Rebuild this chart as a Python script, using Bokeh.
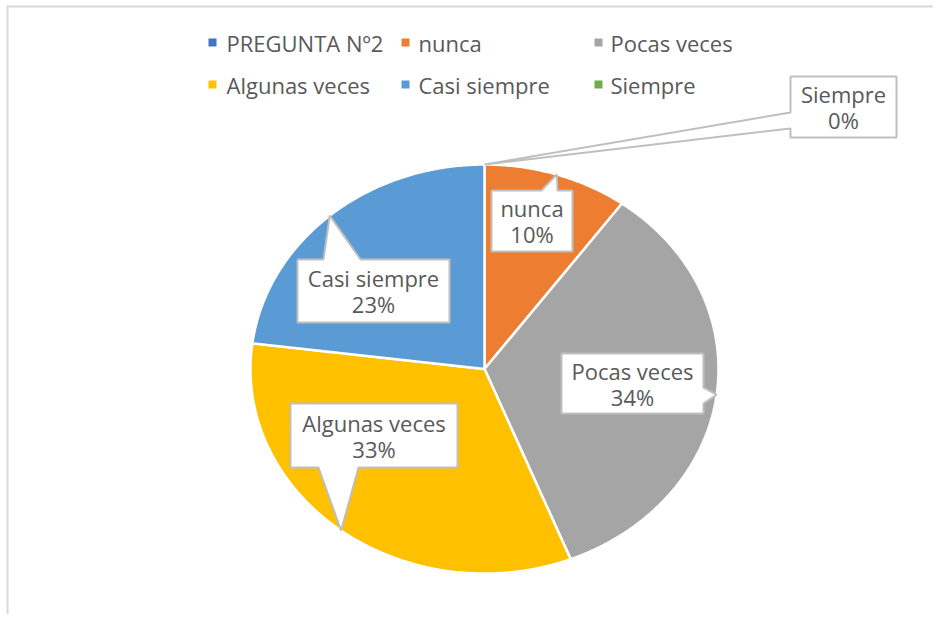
import numpy as np
from bokeh.plotting import figure
from bokeh.models import Range1d
from bokeh.core.properties import value
from bokeh.embed import file_html
from bokeh.resources import INLINE

# ---------------- data ----------------
categories = ["PREGUNTA Nº2", "nunca", "Pocas veces", "Algunas veces", "Casi siempre", "Siempre"]
percent = [0, 10, 34, 33, 23, 0]
colors = ["#4472C4", "#ED7D31", "#A5A5A5", "#FFC000", "#5B9BD5", "#70AD47"]

# ---------------- layout (pixel space of the picture) ----------------
W, H = 933, 614
CX, CY, RX, RY = 484, 368.5, 234, 204.5
FONT = value("Open Sans")
TXT = "#595959"
FS = "22px"

# legend: column x of marker, row y
leg_marker_x = [212, 405, 598]
leg_text_x = [226, 418, 610]
leg_row_y = [42, 84]

# callout boxes: (x0, y0, x1, y1, side, base0, base1) for slices 1..5
callouts = {
    "nunca": (491, 190, 572, 251, "top", 541, 557),
    "Pocas veces": (561, 353, 703, 413, "right", 387, 403),
    "Algunas veces": (290, 403, 457, 467, "bottom", 318, 358),
    "Casi siempre": (297, 259, 449, 322, "top", 323, 360),
    "Siempre": (790, 76, 896, 137, "left", 112, 128),
}

p = figure(width=W, height=H, output_backend="svg", toolbar_location=None,
           x_range=Range1d(0, W), y_range=Range1d(H, 0),
           x_axis_type=None, y_axis_type=None, min_border=0)
p.outline_line_color = None
p.xgrid.visible = False
p.ygrid.visible = False

# frame lines of the chart area (top and left visible)
p.segment(x0=[6, 7], y0=[6, 6], x1=[W, 7], y1=[6, H],
          line_color="#D9D9D9", line_width=2)


def ell(t_deg):
    t = np.radians(t_deg)
    return CX + RX * np.sin(t), CY - RY * np.cos(t)


# ---------------- pie slices ----------------
pie_idx = list(range(1, len(categories)))
total = float(sum(percent[i] for i in pie_idx))
xs, ys, cs = [], [], []
mids = {}
start = 0.0
for i in pie_idx:
    span = percent[i] / total * 360.0
    end = start + span
    mids[categories[i]] = (start + end) / 2.0
    if span > 0:
        n = max(4, int(span * 2))
        t = np.linspace(start, end, n)
        ex, ey = ell(t)
        xs.append([CX] + list(ex))
        ys.append([CY] + list(ey))
        cs.append(colors[i])
    start = end

p.patches(xs=xs, ys=ys, fill_color=cs, line_color="white", line_width=2.5)

# ---------------- callout labels ----------------
cxs, cys = [], []
l1x, l1y, l1t, l2y, l2t = [], [], [], [], []
for i in pie_idx:
    name = categories[i]
    x0, y0, x1, y1, side, b0, b1 = callouts[name]
    tx, ty = ell(mids[name])
    tip = (float(tx), float(ty))
    if side == "top":
        pts = [(x0, y0), (b0, y0), tip, (b1, y0), (x1, y0), (x1, y1), (x0, y1)]
    elif side == "bottom":
        pts = [(x0, y0), (x1, y0), (x1, y1), (b1, y1), tip, (b0, y1), (x0, y1)]
    elif side == "left":
        pts = [(x0, y0), (x1, y0), (x1, y1), (x0, y1), (x0, b1), tip, (x0, b0)]
    else:
        pts = [(x0, y0), (x1, y0), (x1, b0), tip, (x1, b1), (x1, y1), (x0, y1)]
    cxs.append([q[0] for q in pts])
    cys.append([q[1] for q in pts])
    mx, my = (x0 + x1) / 2.0, (y0 + y1) / 2.0
    l1x.append(mx)
    l1y.append(my - 13)
    l1t.append(name)
    l2y.append(my + 13)
    l2t.append(f"{round(percent[i] / total * 100)}%")

p.patches(xs=cxs, ys=cys, fill_color="white", line_color="#BFBFBF", line_width=2)
p.text(x=l1x, y=l1y, text=l1t, text_font=FONT, text_font_size=FS,
       text_color=TXT, text_align="center", text_baseline="middle")
p.text(x=l1x, y=l2y, text=l2t, text_font=FONT, text_font_size=FS,
       text_color=TXT, text_align="center", text_baseline="middle")

# ---------------- legend ----------------
lmx, lmy, ltx = [], [], []
for k in range(len(categories)):
    r, c = divmod(k, 3)
    lmx.append(leg_marker_x[c])
    ltx.append(leg_text_x[c])
    lmy.append(leg_row_y[r])
p.scatter(x=lmx, y=lmy, marker="square", size=8, fill_color=colors, line_color=None)
p.text(x=ltx, y=lmy, text=categories, text_font=FONT, text_font_size=FS,
       text_color=TXT, text_align="left", text_baseline="middle")

open("out.html", "w").write(file_html(p, INLINE))
